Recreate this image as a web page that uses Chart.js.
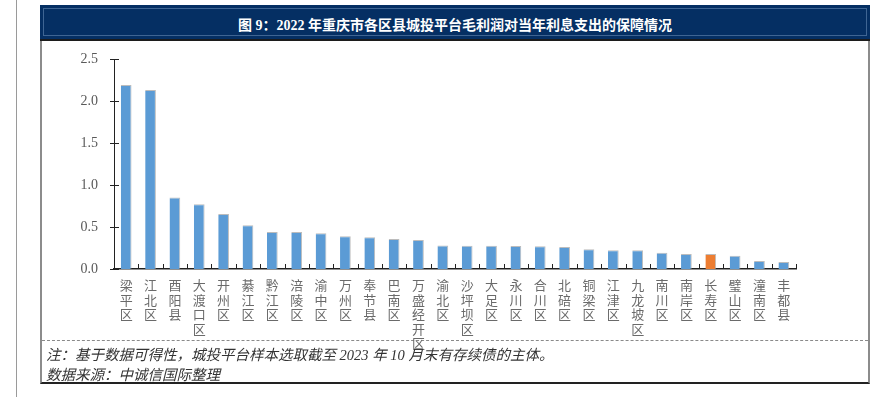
<!DOCTYPE html>
<html>
<head>
<meta charset="utf-8">
<script src="https://cdn.jsdelivr.net/npm/chart.js@4"></script>
<style>
  html, body { margin: 0; padding: 0; background: #fff; }
  body { width: 896px; height: 397px; position: relative; overflow: hidden; }
  .side-line { position: absolute; left: 16px; top: 0; width: 1px; height: 397px; background: #9a9a9a; }
  .frame { position: absolute; left: 40px; top: 5px; width: 826px; height: 377px;
    border-left: 2px solid #8c8c8c; border-right: 2px solid #8c8c8c; border-bottom: 2px solid #222; }
  .header { position: absolute; left: 40px; top: 5px; width: 830px; height: 34px; background: #052f63;
    border-bottom: 2px solid #1c1c1c; box-sizing: content-box; }
  .header-inner { position: absolute; left: 3px; top: 3px; right: 3px; bottom: 3px; border: 1px solid #3f6593; }
  .title { position: absolute; left: 0; right: 0; top: 9px; text-align: center; color: #fff;
    font: bold 14px "Liberation Serif", "Noto Sans CJK SC", serif; }
  .dash { position: absolute; left: 42px; top: 340px; width: 826px; border-top: 1px dashed #8a8a8a; }
  .note { position: absolute; left: 46px; color: #333; font: italic 14.5px "Liberation Serif", "Noto Sans CJK SC", serif; }
  canvas { position: absolute; left: 0; top: 0; }
</style>
</head>
<body>
<div class="side-line"></div>
<div class="frame"></div>
<div class="header"><div class="header-inner"></div>
  <div class="title">图 9：2022 年重庆市各区县城投平台毛利润对当年利息支出的保障情况</div>
</div>
<div class="dash"></div>
<canvas id="chart" width="896" height="397"></canvas>
<div class="note" style="top:343px">注：基于数据可得性，城投平台样本选取截至 2023 年 10 月末有存续债的主体。</div>
<div class="note" style="top:363px">数据来源：中诚信国际整理</div>
<script>
const categories = ['梁平区', '江北区', '酉阳县', '大渡口区', '开州区', '綦江区', '黔江区', '涪陵区',
  '渝中区', '万州区', '奉节县', '巴南区', '万盛经开区', '渝北区', '沙坪坝区', '大足区', '永川区',
  '合川区', '北碚区', '铜梁区', '江津区', '九龙坡区', '南川区', '南岸区', '长寿区', '璧山区',
  '潼南区', '丰都县'];
const values = [2.19, 2.13, 0.85, 0.77, 0.655, 0.52, 0.44, 0.44, 0.425, 0.39, 0.377, 0.357, 0.345,
  0.28, 0.277, 0.277, 0.274, 0.27, 0.262, 0.234, 0.222, 0.222, 0.194, 0.179, 0.179, 0.159, 0.095, 0.083];
const highlighted = '长寿区';
const yTicks = [0, 0.5, 1.0, 1.5, 2.0, 2.5];

const barColors = categories.map(c => c === highlighted ? '#ed7d31' : '#5b9bd5');

// small tick marks drawn inside the plot (between categories, across the y axis)
const innerTicks = {
  id: 'innerTicks',
  afterDraw(chart) {
    const { ctx, chartArea, scales } = chart;
    const n = categories.length;
    ctx.save();
    ctx.strokeStyle = '#222';
    ctx.lineWidth = 1;
    ctx.beginPath();
    for (let i = 1; i <= n; i++) {
      const px = Math.round(chartArea.left + (chartArea.right - chartArea.left) * i / n) + 0.5;
      ctx.moveTo(px, chartArea.bottom);
      ctx.lineTo(px, chartArea.bottom - 5);
    }
    yTicks.forEach(v => {
      const py = Math.round(scales.y.getPixelForValue(v)) + 0.5;
      ctx.moveTo(chartArea.left - 4, py);
      ctx.lineTo(chartArea.left + 5, py);
    });
    ctx.stroke();
    ctx.restore();
  }
};

new Chart(document.getElementById('chart'), {
  type: 'bar',
  data: {
    labels: categories.map(c => Array.from(c)),
    datasets: [{
      data: values,
      backgroundColor: barColors,
      borderColor: 'rgba(160,160,160,0.7)',
      borderWidth: { top: 1, right: 1, left: 0, bottom: 0 },
      borderSkipped: false,
      categoryPercentage: 1,
      barPercentage: 0.44
    }]
  },
  options: {
    responsive: false,
    animation: false,
    devicePixelRatio: 1,
    layout: { padding: { left: 40, top: 59, right: 100, bottom: 0 } },
    plugins: {
      legend: { display: false },
      tooltip: { enabled: false }
    },
    scales: {
      x: {
        grid: { display: false, drawTicks: false },
        border: { display: true, color: '#222', width: 1.5 },
        ticks: {
          autoSkip: false,
          maxRotation: 0,
          padding: 9,
          color: '#6a6a6a',
          font: { family: '"Noto Sans CJK SC", sans-serif', size: 13, lineHeight: 1.12 }
        },
        afterFit: (s) => { s.height = 128; }
      },
      y: {
        min: 0,
        max: 2.5,
        afterBuildTicks: (s) => { s.ticks = yTicks.map(v => ({ value: v })); },
        grid: { display: false, drawTicks: false },
        border: { display: true, color: '#222', width: 1 },
        ticks: {
          padding: 16,
          color: '#595959',
          font: { family: '"Liberation Serif", serif', size: 14 },
          callback: (v) => Number(v).toFixed(1)
        },
        afterFit: (s) => { s.width = 74; }
      }
    }
  },
  plugins: [innerTicks]
});
</script>
</body>
</html>
